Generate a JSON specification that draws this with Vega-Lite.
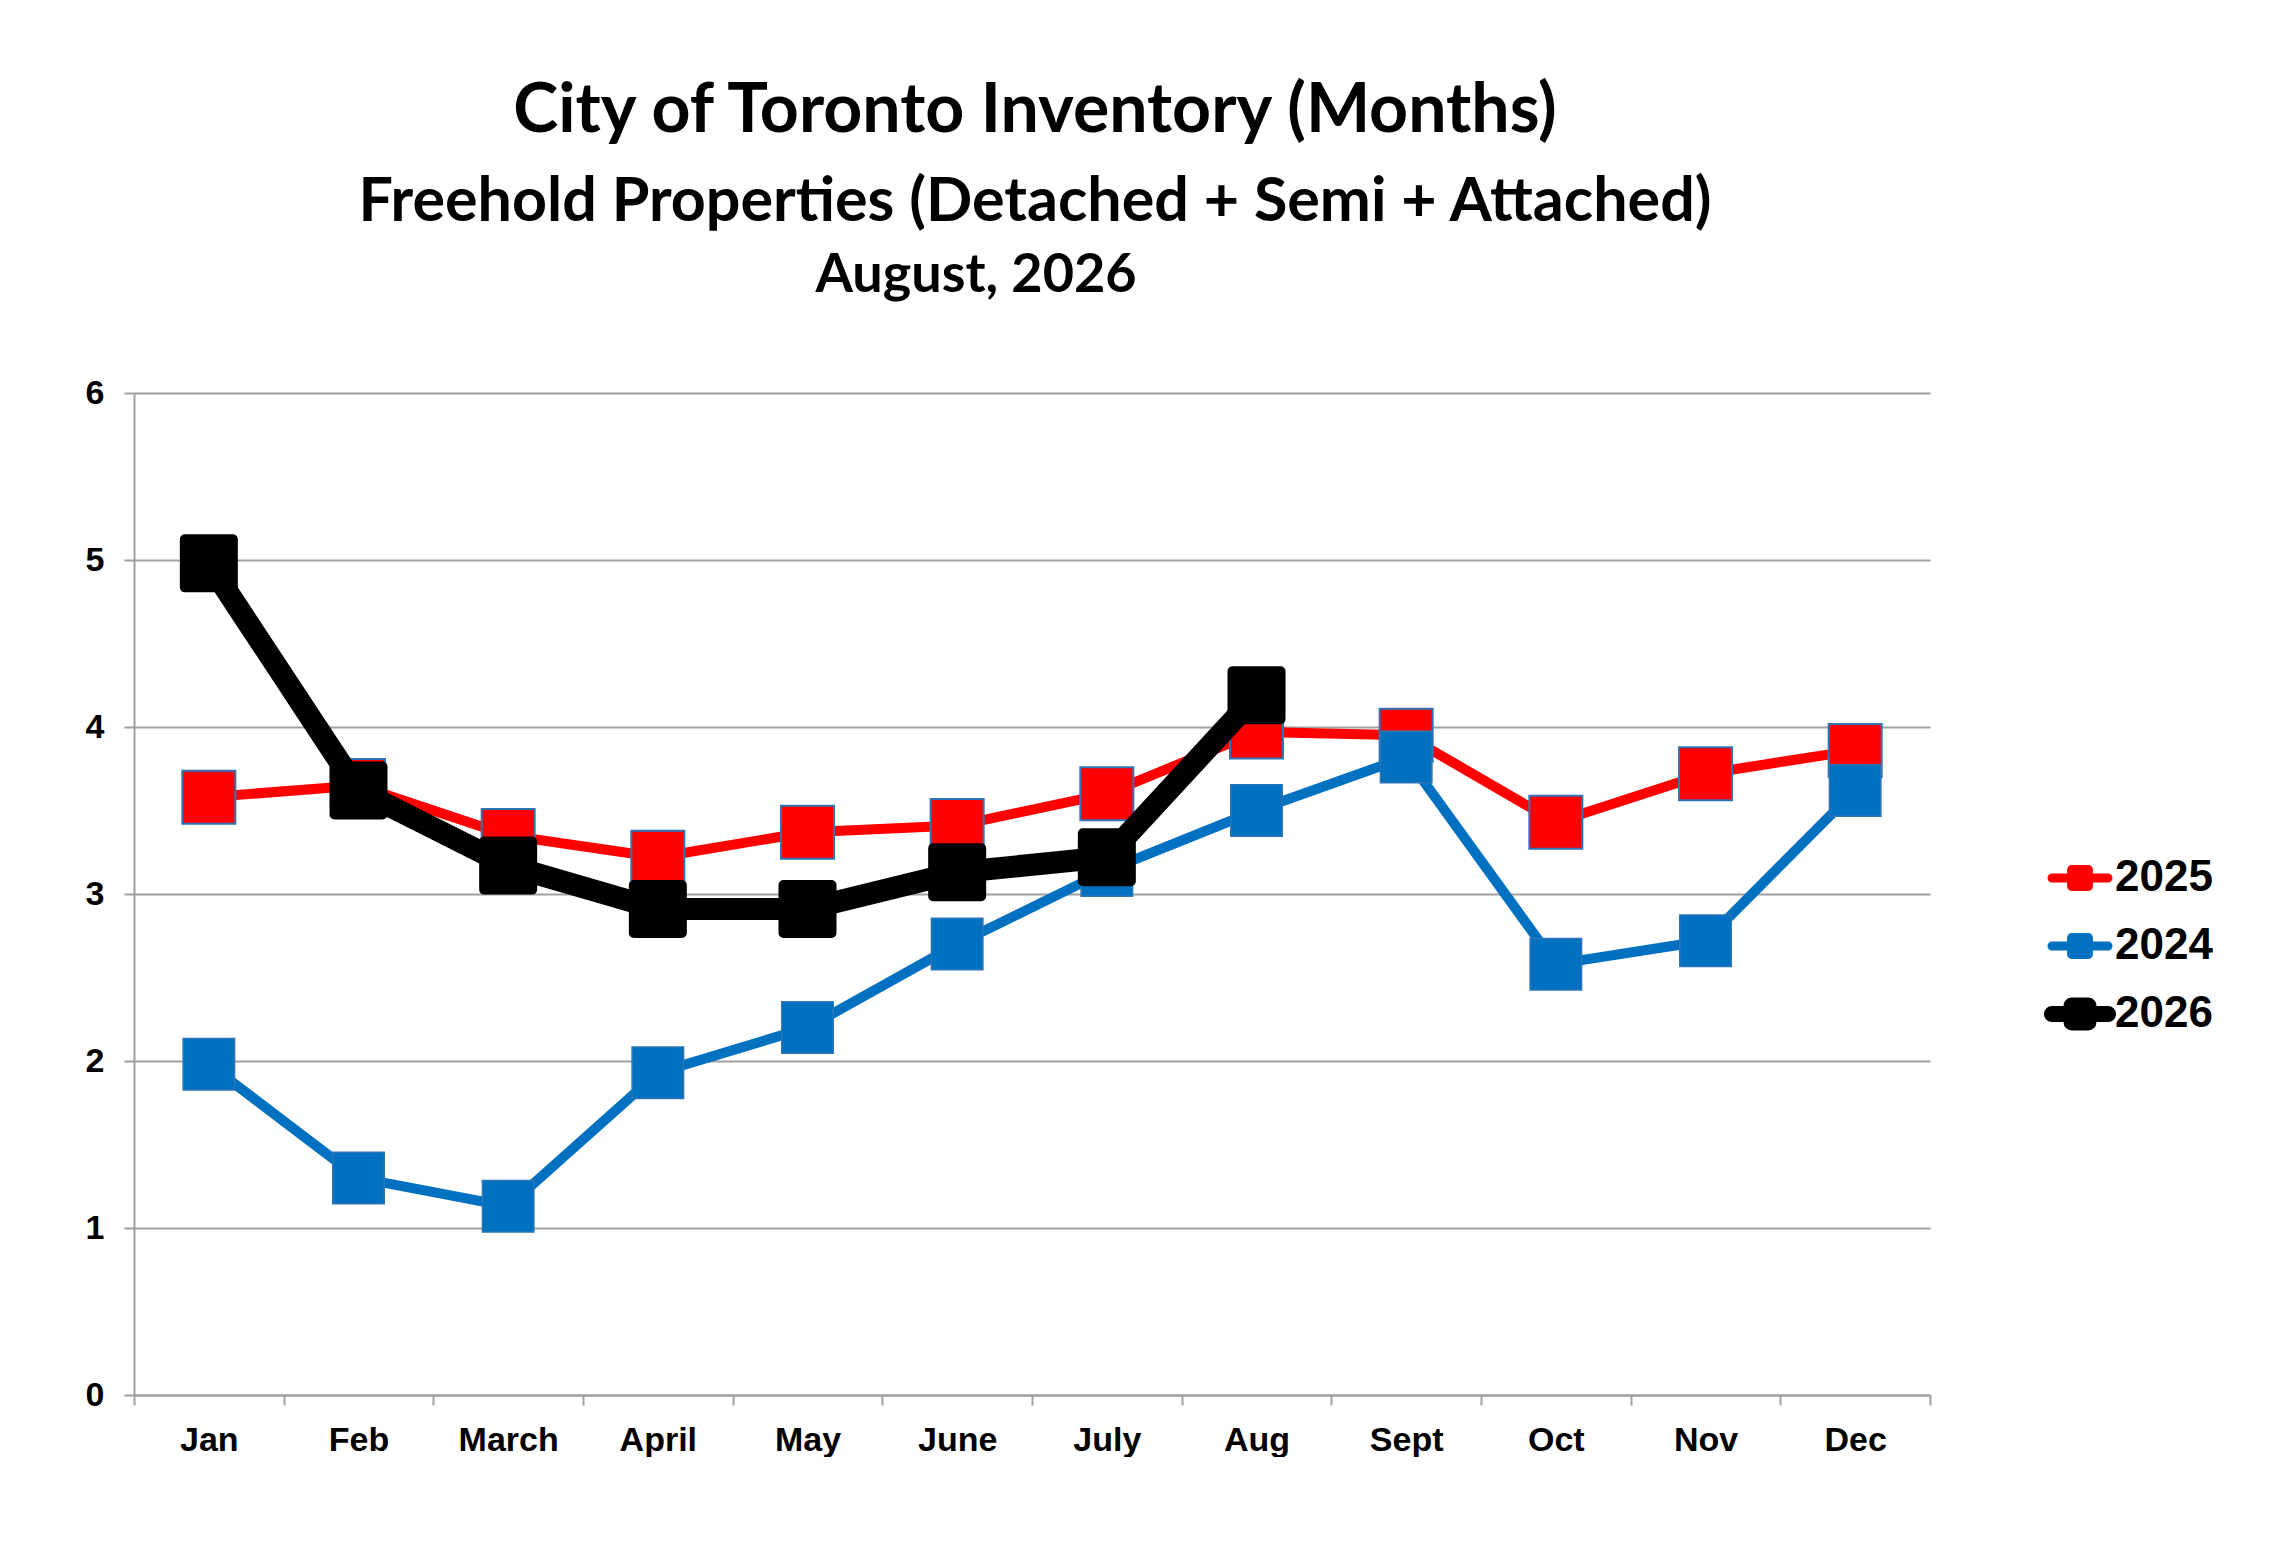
{
  "$schema": "https://vega.github.io/schema/vega-lite/v6.json",
  "background": "white",
  "padding": {"left": 85, "top": 78, "right": 0, "bottom": 0},
  "title": {
    "text": "City of Toronto Inventory (Months)",
    "subtitle": "Freehold Properties (Detached + Semi + Attached)",
    "font": "Lato",
    "fontSize": 68,
    "fontWeight": "bold",
    "color": "black",
    "subtitleFont": "Lato",
    "subtitleFontSize": 61,
    "subtitleFontWeight": "bold",
    "subtitleColor": "black",
    "subtitlePadding": 27,
    "anchor": "middle",
    "frame": "group",
    "offset": 16,
    "dx": 3
  },
  "datasets": {
    "inv": [
      {"month": "Jan", "series": "2025", "value": 3.58},
      {"month": "Feb", "series": "2025", "value": 3.65},
      {"month": "March", "series": "2025", "value": 3.35},
      {"month": "April", "series": "2025", "value": 3.22},
      {"month": "May", "series": "2025", "value": 3.37},
      {"month": "June", "series": "2025", "value": 3.41},
      {"month": "July", "series": "2025", "value": 3.60},
      {"month": "Aug", "series": "2025", "value": 3.97},
      {"month": "Sept", "series": "2025", "value": 3.95},
      {"month": "Oct", "series": "2025", "value": 3.43},
      {"month": "Nov", "series": "2025", "value": 3.72},
      {"month": "Dec", "series": "2025", "value": 3.86},
      {"month": "Jan", "series": "2024", "value": 1.98},
      {"month": "Feb", "series": "2024", "value": 1.30},
      {"month": "March", "series": "2024", "value": 1.13},
      {"month": "April", "series": "2024", "value": 1.93},
      {"month": "May", "series": "2024", "value": 2.20},
      {"month": "June", "series": "2024", "value": 2.70},
      {"month": "July", "series": "2024", "value": 3.14},
      {"month": "Aug", "series": "2024", "value": 3.50},
      {"month": "Sept", "series": "2024", "value": 3.82},
      {"month": "Oct", "series": "2024", "value": 2.58},
      {"month": "Nov", "series": "2024", "value": 2.72},
      {"month": "Dec", "series": "2024", "value": 3.62},
      {"month": "Jan", "series": "2026", "value": 4.98},
      {"month": "Feb", "series": "2026", "value": 3.62},
      {"month": "March", "series": "2026", "value": 3.17},
      {"month": "April", "series": "2026", "value": 2.91},
      {"month": "May", "series": "2026", "value": 2.91},
      {"month": "June", "series": "2026", "value": 3.13},
      {"month": "July", "series": "2026", "value": 3.22},
      {"month": "Aug", "series": "2026", "value": 4.19}
    ]
  },
  "vconcat": [
    {
      "width": 1796,
      "height": 1002,
      "title": {
        "text": "August, 2026",
        "font": "Lato",
        "fontSize": 54,
        "fontWeight": "bold",
        "color": "black",
        "anchor": "middle",
        "frame": "group",
        "offset": 73,
        "dx": -56
      },
      "data": {"name": "inv"},
      "encoding": {
        "x": {
          "field": "month",
          "type": "nominal",
          "sort": ["Jan", "Feb", "March", "April", "May", "June", "July", "Aug", "Sept", "Oct", "Nov", "Dec"],
          "scale": {"type": "band", "paddingInner": 0, "paddingOuter": 0},
          "bandPosition": 0.5,
          "axis": {
            "title": null,
            "labelFont": "Liberation Sans",
            "labelFontSize": 34,
            "labelFontWeight": "bold",
            "labelColor": "black",
            "labelAngle": 0,
            "labelPadding": 18,
            "tickBand": "extent",
            "tickSize": 10,
            "tickColor": "#a0a0a0",
            "tickWidth": 2,
            "domainColor": "#a0a0a0",
            "domainWidth": 2,
            "grid": false
          }
        },
        "y": {
          "field": "value",
          "type": "quantitative",
          "scale": {"domain": [0, 6], "nice": false},
          "axis": {
            "title": null,
            "values": [0, 1, 2, 3, 4, 5, 6],
            "labelFont": "Liberation Sans",
            "labelFontSize": 34,
            "labelFontWeight": "bold",
            "labelColor": "black",
            "labelPadding": 20,
            "tickSize": 10,
            "tickColor": "#a0a0a0",
            "tickWidth": 2,
            "domainColor": "#a0a0a0",
            "domainWidth": 2,
            "grid": true,
            "gridColor": "#a0a0a0",
            "gridWidth": 2
          }
        },
        "color": {
          "field": "series",
          "type": "nominal",
          "scale": {"domain": ["2025", "2024", "2026"], "range": ["#FF0000", "#0070C0", "#000000"]},
          "legend": {
            "title": null,
            "orient": "none",
            "legendX": 1924,
            "legendY": 463,
            "padding": 0,
            "symbolType": "M-1,0H1M-0.3,-0.3H0.3V0.3H-0.3Z",
            "symbolSize": 3136,
            "symbolStrokeWidth": 9,
            "labelFont": "Liberation Sans",
            "labelFontSize": 44,
            "labelFontWeight": "bold",
            "labelColor": "black",
            "labelOffset": 13,
            "rowPadding": 24,
            "encode": {
              "symbols": {
                "update": {
                  "fill": {"scale": "color", "field": "value"},
                  "stroke": {"scale": "color", "field": "value"},
                  "strokeWidth": {"signal": "datum.value == '2026' ? 16 : 9"},
                  "strokeJoin": {"value": "round"},
                  "strokeCap": {"value": "round"},
                  "opacity": {"value": 1}
                }
              }
            }
          }
        }
      },
      "layer": [
        {
          "transform": [{"filter": {"field": "series", "equal": "2025"}}],
          "mark": {"type": "line", "strokeWidth": 10, "strokeJoin": "round"}
        },
        {
          "transform": [{"filter": {"field": "series", "equal": "2025"}}],
          "mark": {"type": "point", "shape": "square", "filled": true, "size": 2809, "stroke": "#2E75B6", "strokeWidth": 2, "opacity": 1}
        },
        {
          "transform": [{"filter": {"field": "series", "equal": "2024"}}],
          "mark": {"type": "line", "strokeWidth": 10, "strokeJoin": "round"}
        },
        {
          "transform": [{"filter": {"field": "series", "equal": "2024"}}],
          "mark": {"type": "point", "shape": "square", "filled": true, "size": 2650, "stroke": "#2E75B6", "strokeWidth": 1.5, "opacity": 1}
        },
        {
          "transform": [{"filter": {"field": "series", "equal": "2026"}}],
          "mark": {"type": "line", "strokeWidth": 22, "strokeJoin": "round"}
        },
        {
          "transform": [{"filter": {"field": "series", "equal": "2026"}}],
          "mark": {"type": "point", "shape": "square", "filled": true, "size": 2304, "stroke": "#000000", "strokeWidth": 10, "strokeJoin": "round", "opacity": 1}
        }
      ]
    }
  ],
  "config": {
    "view": {"stroke": null}
  }
}
